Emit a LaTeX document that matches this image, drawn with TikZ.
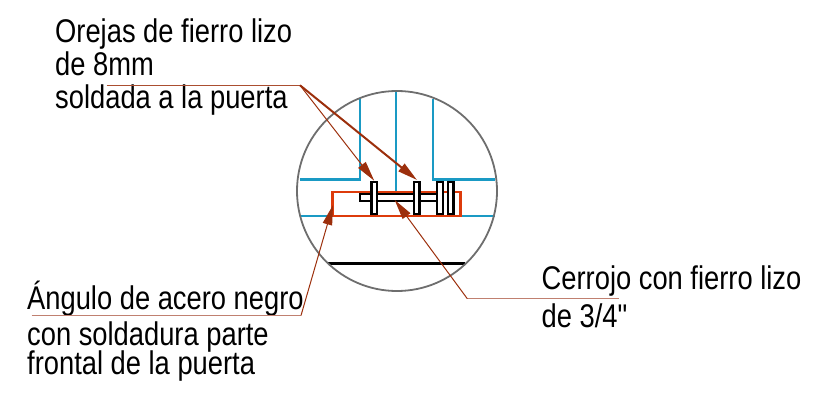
\documentclass[tikz,border=0pt]{standalone}
\usepackage{fontspec}
\newfontfamily\lblfont[FakeStretch=0.833]{Liberation Sans}
\usetikzlibrary{arrows.meta}
\definecolor{lead}{HTML}{9C2F0C}
\definecolor{leadlight}{HTML}{C08070}
\definecolor{bluel}{HTML}{1A9AC4}
\definecolor{redl}{HTML}{DD3B0B}
\definecolor{greyc}{HTML}{6E6E6E}
\tikzset{
  lbl/.style={anchor=base west,inner sep=0pt,font=\lblfont\fontsize{32.8}{32.8}\selectfont,text=black},
  bluewall/.style={draw=bluel,line width=2.3pt},
  part/.style={draw=black,line width=2.3pt,fill=white},
  ear/.style={part,minimum width=5.4pt,minimum height=32.3pt,inner sep=0pt},
  leader/.style={draw=lead,line width=1pt},
  shelf/.style={draw=leadlight,line width=1.3pt},
  tip/.style={-{Triangle[length=20pt,width=9.5pt,fill=lead]}},
}
\begin{document}
\begin{tikzpicture}[x=1pt,y=-1pt]
\useasboundingbox (0,0) rectangle (826,393);
% labels
\node[lbl] (t1) at (55,43) {Orejas de fierro lizo};
\node[lbl] (t2) at (55,75.5) {de 8mm};
\node[lbl] (t3) at (55,109) {soldada a la puerta};
\node[lbl] (t4) at (27,309) {Ángulo de acero negro};
\node[lbl] (t5) at (27,345) {con soldadura parte};
\node[lbl] (t6) at (27,374.5) {frontal de la puerta};
\node[lbl] (t7) at (541.5,289) {Cerrojo con fierro lizo};
\node[lbl] (t8) at (541.5,327.5) {de 3/4"};
% walls
\draw[bluewall] (299.5,179.5) -- (360,179.5) -- (360,99);
\draw[bluewall] (396,92) -- (396,193);
\draw[bluewall] (432.7,99) -- (432.7,179.5) -- (494.5,179.5);
\draw[bluewall] (299.5,216) -- (333,216);
\draw[bluewall] (460.5,216) -- (494.5,216);
\draw[line width=2.3pt] (328,263.5) -- (465,263.5);
\draw[draw=greyc,line width=1.8pt] (397,191) circle (100);
\node[draw=redl,line width=2.5pt,minimum width=128pt,minimum height=24pt,inner sep=0pt] (angle) at (396.7,204) {};
% bolt
\draw[part] (437,194) -- (360,194) -- (360,201.3) -- (437,201.3);
\node[ear] (ear1) at (374.2,198) {};
\node[ear] (ear2) at (416.7,198) {};
\node[ear] (ear3) at (440,198) {};
\node[ear] (ear4) at (450.8,198) {};
\coordinate (bolt) at (394.7,200);
% leaders
\coordinate (a) at (300,85.3);
\coordinate (a0) at (106.7,85.3);
\coordinate (b) at (301,315.5);
\coordinate (b0) at (31.7,315.5);
\coordinate (c) at (467.3,298.7);
\coordinate (c0) at (619,298.7);
\draw[shelf,draw=lead!85!white] (a0) -- (a);
\draw[shelf] (b0) -- (b);
\draw[shelf] (c) -- (c0);
\draw[leader,tip] (a) -- (ear1.north);
\draw[leader,line width=2pt,tip] (a) -- (417,180);
\draw[leader,tip] (b) -- (333,205);
\draw[leader,tip] (c) -- (bolt);
\end{tikzpicture}
\end{document}
